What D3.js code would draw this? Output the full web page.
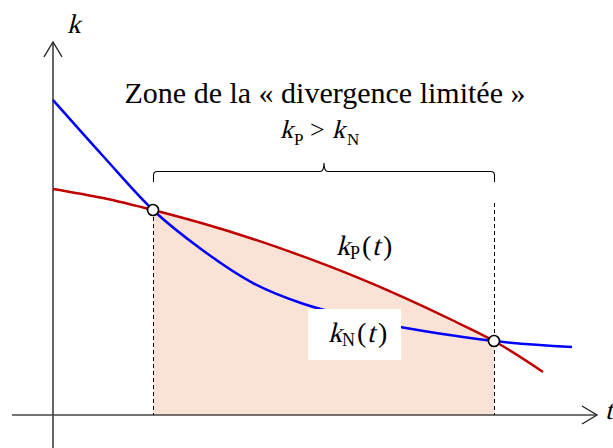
<!DOCTYPE html>
<html>
<head>
<meta charset="utf-8">
<script src="https://cdn.jsdelivr.net/npm/d3@7"></script>
</head>
<body style="margin:0">
<svg width="613" height="448"></svg>
<script>
// t values (x) and k values (y)
var tPoints = [0, 1, 2, 3, 4, 5, 6, 7, 8, 8.82, 9.8];
var kP = [6.46, 6.20, 5.857, 5.47, 5.03, 4.53, 3.98, 3.37, 2.70, 2.114, 1.23];

var tPointsN = [0, 1, 2, 3, 4, 5, 6, 7, 8, 8.82, 10.38];
var kN = [9.0, 7.40, 5.857, 4.70, 3.77, 3.18, 2.80, 2.50, 2.27, 2.114, 1.94];

var crossT = [2, 8.82];
var crossK = [5.857, 2.114];

var tRange = [-0.82, 10.88];
var kRange = [-0.94, 10.66];

function main() {
  var svg = d3.select("svg");

  // upright serif text; italic is faked with a skew
  function label(x, y, str, size, italic) {
    return svg.append("text")
      .attr("transform", "translate(" + x + "," + y + ")" + (italic ? " skewX(-14)" : ""))
      .attr("font-family", "Liberation Serif")
      .style("font-size", size + "px")
      .text(str);
  }

  // title first
  svg.append("text")
    .attr("x", 325).attr("y", 103)
    .attr("text-anchor", "middle")
    .attr("font-family", "Liberation Serif")
    .style("font-size", "30px")
    .text("Zone de la « divergence limitée »");

  var xScale = d3.scaleLinear().domain([0, 10]).range([53, 553]),
      yScale = d3.scaleLinear().domain([0, 10]).range([415, 65]);

  var pData = tPoints.map(function(t, i) { return { t: t, k: kP[i] }; });
  var nData = tPointsN.map(function(t, i) { return { t: t, k: kN[i] }; });
  var crosses = crossT.map(function(t, i) { return { t: t, k: crossK[i] }; });

  var curve = d3.curveMonotoneX;

  // shaded zone under kP between the crossings
  svg.append("clipPath").attr("id", "zone")
    .append("rect")
    .attr("x", xScale(crossT[0]))
    .attr("y", 0)
    .attr("width", xScale(crossT[1]) - xScale(crossT[0]))
    .attr("height", yScale(0));

  svg.append("path")
    .datum(pData)
    .attr("clip-path", "url(#zone)")
    .attr("fill", "#fae3d6")
    .attr("d", d3.area().curve(curve)
      .x(function(d) { return xScale(d.t); })
      .y0(yScale(0))
      .y1(function(d) { return yScale(d.k); }));

  // axes
  svg.append("line")
    .attr("x1", xScale(0)).attr("x2", xScale(0))
    .attr("y1", yScale(kRange[0])).attr("y2", yScale(kRange[1]))
    .attr("stroke", "#666").attr("stroke-width", 2);
  svg.append("line")
    .attr("x1", xScale(tRange[0])).attr("x2", xScale(tRange[1]))
    .attr("y1", yScale(0)).attr("y2", yScale(0))
    .attr("stroke", "#444").attr("stroke-width", 1.6);

  var ax = xScale(0), ay = yScale(kRange[1]);
  svg.append("path")
    .attr("d", "M" + (ax - 9) + "," + (ay + 15) + "L" + ax + "," + ay + "L" + (ax + 9) + "," + (ay + 15))
    .attr("fill", "none").attr("stroke", "#222").attr("stroke-width", 1.3);
  var bx = xScale(tRange[1]), by = yScale(0);
  svg.append("path")
    .attr("d", "M" + (bx - 15) + "," + (by - 9) + "L" + bx + "," + by + "L" + (bx - 15) + "," + (by + 9))
    .attr("fill", "none").attr("stroke", "#222").attr("stroke-width", 1.3);

  label(67, 33, "k", 27, true);
  label(605, 419, "t", 27, true);

  // dashed verticals
  svg.append("line")
    .attr("x1", xScale(crossT[0]) + 0.5).attr("x2", xScale(crossT[0]) + 0.5)
    .attr("y1", yScale(crossK[0])).attr("y2", yScale(0))
    .attr("stroke", "#000").attr("stroke-width", 1).attr("stroke-dasharray", "4,3");
  svg.append("line")
    .attr("x1", xScale(crossT[1]) + 0.5).attr("x2", xScale(crossT[1]) + 0.5)
    .attr("y1", 203).attr("y2", yScale(0))
    .attr("stroke", "#000").attr("stroke-width", 1).attr("stroke-dasharray", "4,3");

  // curves
  var line = d3.line().curve(curve)
    .x(function(d) { return xScale(d.t); })
    .y(function(d) { return yScale(d.k); });

  svg.append("path").datum(pData)
    .attr("fill", "none").attr("stroke", "#c00000").attr("stroke-width", 2.5)
    .attr("d", line);
  svg.append("path").datum(nData)
    .attr("fill", "none").attr("stroke", "#0000ff").attr("stroke-width", 2.5)
    .attr("d", line);

  // brace
  var l = xScale(crossT[0]) + 0.5, r = xScale(crossT[1]) + 0.5, m = (l + r) / 2;
  svg.append("path")
    .attr("d", "M" + l + ",182 V175 Q" + l + ",171.5 " + (l + 4) + ",171.5 H" + (m - 4) +
      " Q" + m + ",171.5 " + m + ",163 Q" + m + ",171.5 " + (m + 4) + ",171.5 H" + (r - 4) +
      " Q" + r + ",171.5 " + r + ",175 V182")
    .attr("fill", "none").attr("stroke", "#000").attr("stroke-width", 1.1);

  // kP > kN
  label(280, 138, "k", 26, true);
  label(294, 145, "P", 17, false);
  label(310, 138, ">", 26, false);
  label(332, 138, "k", 26, true);
  label(347, 145, "N", 17, false);

  // kP(t)
  label(336, 255, "k", 28, true);
  label(350, 259, "P", 18, false);
  label(362, 255, "(", 28, false);
  label(372, 255, "t", 28, true);
  label(383, 255, ")", 28, false);

  // kN(t) on a white box
  svg.append("rect")
    .attr("x", 308).attr("y", 309).attr("width", 93).attr("height", 51)
    .attr("fill", "#fff");
  label(328, 342, "k", 28, true);
  label(342, 346, "N", 18, false);
  label(357, 342, "(", 28, false);
  label(367, 342, "t", 28, true);
  label(378, 342, ")", 28, false);

  // crossing markers
  svg.selectAll(".cross")
    .data(crosses)
    .enter().append("circle")
    .attr("class", "cross")
    .attr("cx", function(d) { return xScale(d.t); })
    .attr("cy", function(d) { return yScale(d.k); })
    .attr("r", 5.5)
    .attr("fill", "#fff").attr("stroke", "#000").attr("stroke-width", 1.6);
}
main();
</script>
</body>
</html>
